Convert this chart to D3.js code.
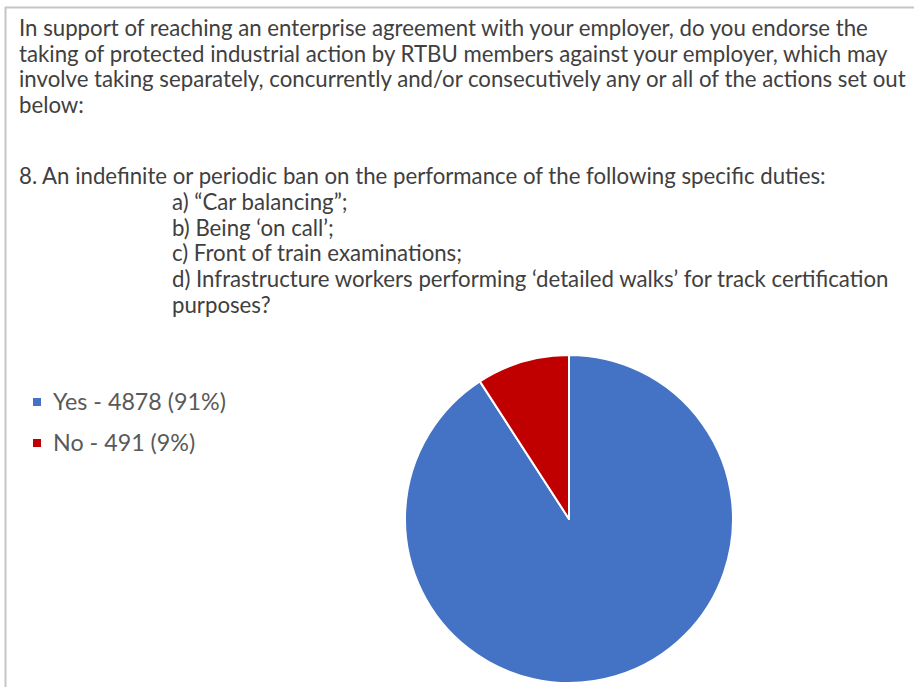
<!DOCTYPE html>
<html>
<head>
<meta charset="utf-8">
<script src="https://cdn.jsdelivr.net/npm/d3@7/dist/d3.min.js"></script>
<style>
  html, body { margin: 0; padding: 0; background: #fff; }
  svg { display: block; }
</style>
</head>
<body>
<svg id="chart" width="914" height="687"></svg>
<script>
// Survey question text
const questionLines = [
  "In support of reaching an enterprise agreement with your employer, do you endorse the",
  "taking of protected industrial action by RTBU members against your employer, which may",
  "involve taking separately, concurrently and/or consecutively any or all of the actions set out",
  "below:"
];
const itemHeading = "8. An indefinite or periodic ban on the performance of the following specific duties:";
const itemLines = [
  "a) \u201CCar balancing\u201D;",
  "b) Being \u2018on call\u2019;",
  "c) Front of train examinations;",
  "d) Infrastructure workers performing \u2018detailed walks\u2019 for track certification",
  "purposes?"
];

// Responses
const categories = ["Yes", "No"];
const counts = [4878, 491];
const colors = ["#4472C4", "#C00000"];

const FONT = "Lato, 'Open Sans', 'Noto Sans', sans-serif";
const svg = d3.select("#chart");

// Frame (top and left rule)
svg.append("line").attr("x1", 5).attr("x2", 914).attr("y1", 7.5).attr("y2", 7.5)
  .attr("stroke", "#c6c6c6").attr("stroke-width", 2);
svg.append("line").attr("x1", 5.5).attr("x2", 5.5).attr("y1", 7).attr("y2", 687)
  .attr("stroke", "#c6c6c6").attr("stroke-width", 2);

// Fit the body font so the first line spans its column
const probe = svg.append("text").attr("font-family", FONT).attr("font-size", 18).text(questionLines[0]);
const bodySize = 18 * 849 / probe.node().getComputedTextLength();
probe.remove();

const textColor = "#404040";
const lineH = 25.6;
const body = svg.append("g").attr("font-family", FONT).attr("font-size", bodySize).attr("fill", textColor);

questionLines.forEach((t, i) => {
  body.append("text").attr("x", 19).attr("y", 36 + i * lineH).text(t);
});
body.append("text").attr("x", 19).attr("y", 184).text(itemHeading);
itemLines.forEach((t, i) => {
  body.append("text").attr("x", 172).attr("y", 184.5 + (i + 1) * lineH).text(t);
});

// Pie
const total = d3.sum(counts);
const data = categories.map((c, i) => ({ name: c, value: counts[i], color: colors[i] }));
const pie = d3.pie().sort(null).value(d => d.value);
const arc = d3.arc().innerRadius(0).outerRadius(164);

const g = svg.append("g").attr("transform", "translate(569,519)");
g.selectAll("path").data(pie(data)).join("path")
  .attr("d", arc)
  .attr("fill", d => d.data.color)
  .attr("stroke", "#fff")
  .attr("stroke-width", 2)
  .attr("stroke-linejoin", "round");

// Legend
const legendLabel = d => `${d.name} - ${d.value} (${Math.round(d.value / total * 100)}%)`;
const lprobe = svg.append("text").attr("font-family", FONT).attr("font-size", 18).text(legendLabel(data[0]));
const legendSize = 18 * 173 / lprobe.node().getComputedTextLength();
lprobe.remove();

const legend = svg.append("g").attr("font-family", FONT).attr("font-size", legendSize).attr("fill", "#595959");
const rows = legend.selectAll("g").data(data).join("g")
  .attr("transform", (d, i) => `translate(33,${402 + i * 41})`);
rows.append("rect").attr("x", 0).attr("y", -4).attr("width", 8).attr("height", 8)
  .attr("fill", d => d.color);
rows.append("text").attr("x", 20).attr("dy", "0.35em").text(legendLabel);
</script>
</body>
</html>
